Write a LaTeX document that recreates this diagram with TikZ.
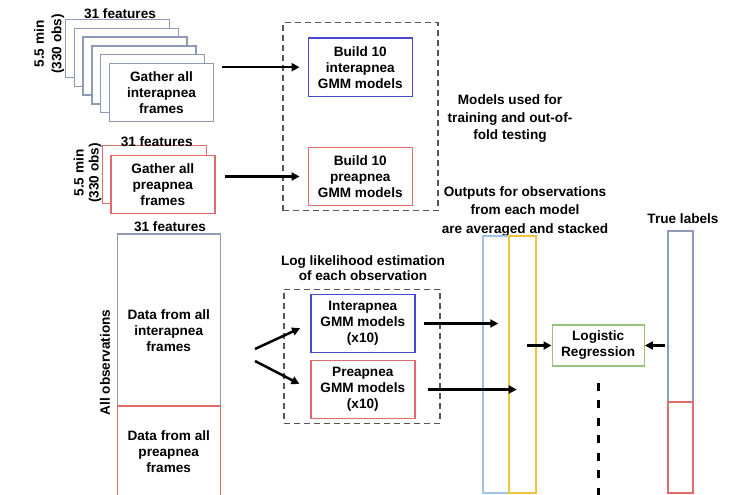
\documentclass[tikz,border=0pt]{standalone}
\usepackage{fontspec}
\setmainfont{Liberation Sans}
\usetikzlibrary{arrows.meta}

\definecolor{framegray}{RGB}{140,156,182}
\definecolor{interblue}{RGB}{72,72,214}
\definecolor{prered}{RGB}{226,108,108}
\definecolor{colblue}{RGB}{160,196,230}
\definecolor{colyellow}{RGB}{240,196,60}
\definecolor{lrgreen}{RGB}{150,196,126}
\definecolor{boxgray}{RGB}{85,85,85}

\tikzset{
  txt/.style={font=\bfseries\fontsize{13.6}{16}\selectfont, align=center, inner sep=0pt},
  sidetxt/.style={txt, rotate=90},
  framebox/.style={txt, draw=framegray, fill=white, line width=1.4pt, minimum width=104pt, minimum height=58pt},
  modelbox/.style={txt, line width=1.4pt, minimum width=104pt, minimum height=58pt},
  groupbox/.style={draw=boxgray, line width=1.4pt, dash pattern=on 6pt off 4pt},
  datarect/.style={draw, line width=1.4pt, minimum width=103pt, inner sep=0pt},
  column/.style={draw, line width=2.2pt, inner sep=0pt},
  arr/.style={-{Triangle[length=8pt,width=8pt]}, line width=2.5pt},
}

\begin{document}
\begin{tikzpicture}[x=1pt, y=-1pt]
  %\draw[very thin,color=gray] (0,0) grid (744,495);
  \useasboundingbox (0,0) rectangle (744,495);

  % stack of interapnea frames
  \foreach \i in {5,4,...,1}
    \node[framebox] (fi\i) at (161.5-8.8*\i, 92.5-8.8*\i) {};
  \node[framebox] (inter) at (161.5,92.5) {Gather all\\interapnea\\frames};
  \node[txt] (featA) at (120,14) {31 features};
  \node[sidetxt, font=\bfseries\fontsize{13.6}{17.5}\selectfont] (obsA) at (49,44) {5.5 min\\(330 obs)};

  % stack of preapnea frames
  \node[framebox, draw=prered] (pb) at (154.3,174.4) {};
  \node[framebox, draw=prered] (pre) at (162.8,184.7) {Gather all\\preapnea\\frames};
  \node[txt] (featB) at (156.7,141.7) {31 features};
  \node[sidetxt, font=\bfseries\fontsize{13.6}{15}\selectfont] (obsB) at (87.5,173) {5.5 min\\(330 obs)};

  % training of the models
  \node[groupbox, minimum width=155pt, minimum height=188pt] (train) at (360.3,116.7) {};
  \node[modelbox, draw=interblue] (binter) at (360.3,67.2) {Build 10\\interapnea\\GMM models};
  \node[modelbox, draw=prered] (bpre) at (360.3,176.5) {Build 10\\preapnea\\GMM models};
  \draw[arr, shorten <=8pt, shorten >=8pt] (inter.east |- binter.west) -- (binter.west);
  \draw[arr, shorten <=9pt, shorten >=8pt] (pre.east |- bpre.west) -- (bpre.west);

  \node[txt, font=\bfseries\fontsize{13.6}{17.5}\selectfont] (usage) at (510,119) {Models used for\\training and out-of-\\fold testing};
  \node[txt, font=\bfseries\fontsize{13.6}{18.5}\selectfont] (stackinfo) at (525,211.5) {Outputs for observations\\from each model\\are averaged and stacked};

  % all observations
  \node[txt] (featC) at (170,226.7) {31 features};
  \node[datarect, draw=framegray, minimum height=172pt] (dinter) at (168.7,320) {};
  \node[datarect, draw=prered, minimum height=94pt] (dpre) at (168.7,453) {};
  \node[txt] (dinterlbl) at (168.7,330.7) {Data from all\\interapnea\\frames};
  \node[txt] (dprelbl) at (168.7,451.7) {Data from all\\preapnea\\frames};
  \node[sidetxt] (allobs) at (105,362.5) {All observations};

  % log likelihood of each observation
  \node[groupbox, minimum width=156pt, minimum height=134pt] (estim) at (362,356.3) {};
  \node[txt, font=\bfseries\fontsize{13.6}{15.3}\selectfont] (estimlbl) at (363,268.3) {Log likelihood estimation\\of each observation};
  \node[modelbox, draw=interblue] (gmminter) at (362.8,323.5) {Interapnea\\GMM models\\(x10)};
  \node[modelbox, draw=prered] (gmmpre) at (362.8,389.5) {Preapnea\\GMM models\\(x10)};

  \coordinate (forkup) at (255,349);
  \coordinate (forkdn) at (255,361);
  \draw[arr, shorten >=11pt] (forkup) -- (gmminter.west);
  \draw[arr, shorten >=12pt] (forkdn) -- (gmmpre.west);

  % averaged outputs, stacked
  \node[column, draw=colblue, minimum width=26pt, minimum height=257pt] (outA) at (496.3,364.5) {};
  \node[column, draw=colyellow, minimum width=26.7pt, minimum height=257pt] (outB) at (522.7,364.5) {};
  \coordinate (inA) at (498.3,323.5);
  \coordinate (inB) at (516.7,389.5);
  \draw[arr, shorten <=8pt] (gmminter.east) -- (inA);
  \draw[arr, shorten <=12pt] (gmmpre.east) -- (inB);

  % stacking model
  \node[modelbox, draw=lrgreen, minimum width=92pt, minimum height=41pt] (logit) at (598.2,345.5) {Logistic\\Regression};
  \coordinate (outC) at (527.3,345.5);
  \draw[arr] (outC) -- (logit.west);

  % true labels
  \node[column, draw=framegray, line width=1.8pt, minimum width=25.6pt, minimum height=171.3pt] (tinter) at (680.5,316.7) {};
  \node[column, draw=prered, line width=1.8pt, minimum width=25.6pt, minimum height=90.7pt] (tpre) at (680.5,447.7) {};
  \node[txt] (truelbl) at (683,219) {True labels};
  \draw[arr, shorten <=1.5pt] (tinter.west |- logit.east) -- (logit.east);

  \coordinate (tail) at (597.7,495);
  \draw[line width=3pt, dash pattern=on 8pt off 9.5pt] ([yshift=-16pt]logit.south) -- (logit.south |- tail);
\end{tikzpicture}
\end{document}
